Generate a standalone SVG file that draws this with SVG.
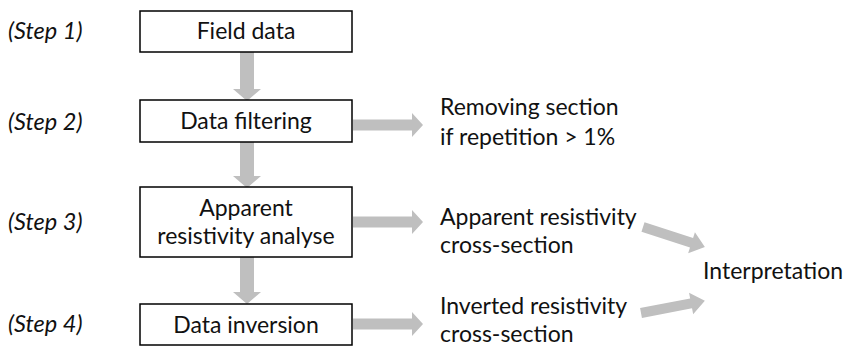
<svg xmlns="http://www.w3.org/2000/svg" width="847" height="347" viewBox="0 0 847 347">
<style>
.box{fill:#fff;stroke:#000;stroke-width:1.5}
.t{font-family:Lato,"Liberation Sans",sans-serif;font-size:23px;fill:#111}
.c{text-anchor:middle}
.s{font-family:Lato,"Liberation Sans",sans-serif;font-size:23.5px;font-style:italic;fill:#111}
.a{fill:#bfbfbf}
</style>
<rect width="847" height="347" fill="#fff"/>
<g id="connectors">
<polygon class="a" points="240,52 254,52 254,89 261,89 247,101 233,89 240,89"/>
<polygon class="a" points="240,142 254,142 254,176 261,176 247,188 233,176 240,176"/>
<polygon class="a" points="240,257 254,257 254,292 261,292 247,304 233,292 240,292"/>
<polygon class="a" points="353,119.5 412,119.5 412,113 423,125 412,137 412,130.5 353,130.5"/>
<polygon class="a" points="353,216.5 412,216.5 412,210 423,222 412,234 412,227.5 353,227.5"/>
<polygon class="a" points="353,318.5 412,318.5 412,312 423,324 412,336 412,329.5 353,329.5"/>
<g transform="translate(643,227) rotate(17.9)"><polygon class="a" points="0,-5 51,-5 51,-11 65,0 51,11 51,5 0,5"/></g>
<g transform="translate(641,313) rotate(-10.8)"><polygon class="a" points="0,-5 51,-5 51,-11 65,0 51,11 51,5 0,5"/></g>
</g>
<g id="step1"><text class="s" x="8" y="39">(Step 1)</text></g>
<g id="step2"><text class="s" x="8" y="130">(Step 2)</text></g>
<g id="step3"><text class="s" x="8" y="230">(Step 3)</text></g>
<g id="step4"><text class="s" x="8" y="332">(Step 4)</text></g>
<g id="field-data"><rect class="box" x="140" y="11" width="212" height="41"/><text class="t c" x="246" y="39">Field data</text></g>
<g id="data-filtering"><rect class="box" x="140" y="100" width="212" height="42"/><text class="t c" x="246" y="129">Data filtering</text></g>
<g id="apparent-analyse"><rect class="box" x="140" y="187" width="212" height="70"/><text class="t c" x="246" y="216">Apparent</text><text class="t c" x="246" y="244">resistivity analyse</text></g>
<g id="data-inversion"><rect class="box" x="140" y="304" width="212" height="41"/><text class="t c" x="246" y="333">Data inversion</text></g>
<g id="removing"><text class="t" x="440" y="115">Removing section</text><text class="t" x="440" y="145">if repetition &gt; 1%</text></g>
<g id="apparent-section"><text class="t" x="440" y="225">Apparent resistivity</text><text class="t" x="440" y="253">cross-section</text></g>
<g id="inverted-section"><text class="t" x="440" y="314">Inverted resistivity</text><text class="t" x="440" y="342">cross-section</text></g>
<g id="interpretation"><text class="t" x="703" y="279">Interpretation</text></g>
</svg>
